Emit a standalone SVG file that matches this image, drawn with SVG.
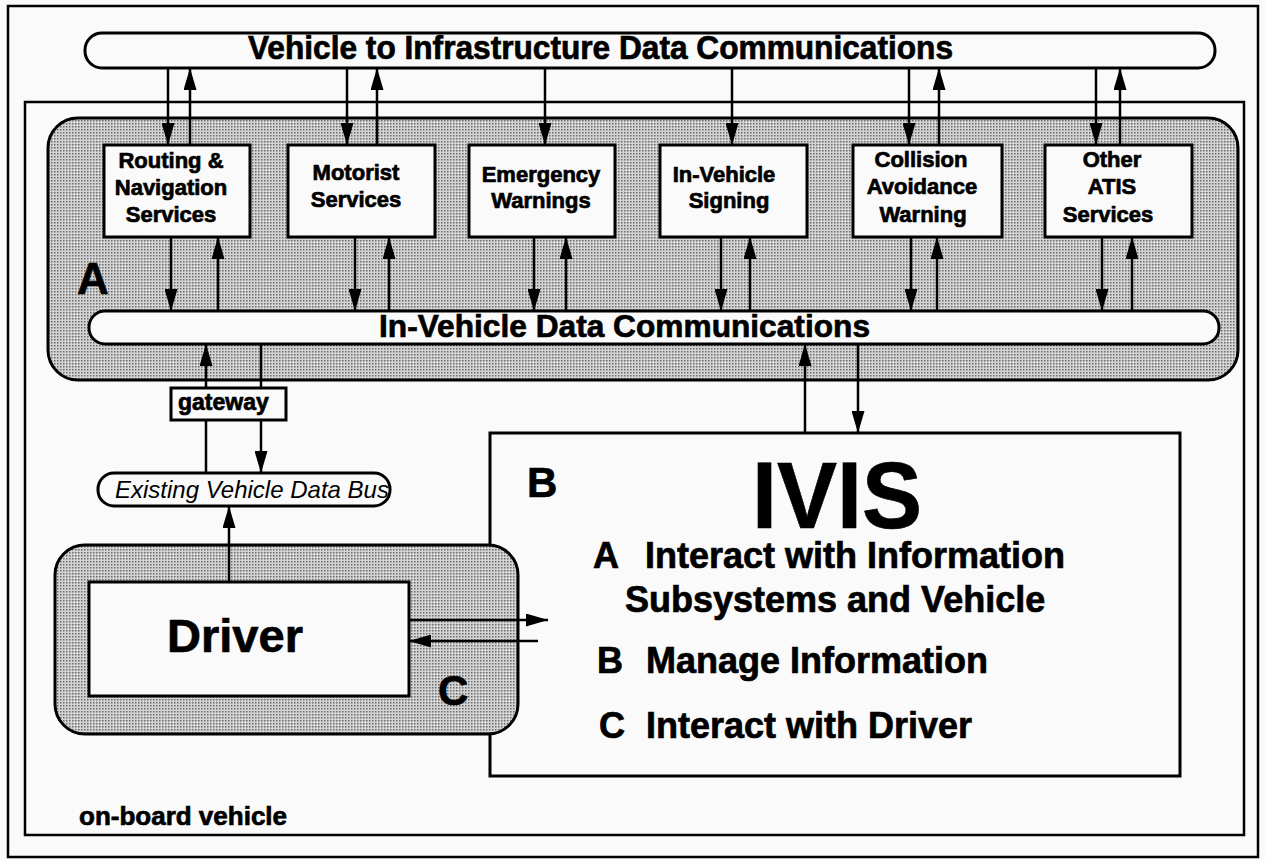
<svg xmlns="http://www.w3.org/2000/svg" width="1265" height="860" viewBox="0 0 1265 860">
<defs>
<marker id="ah" markerWidth="22" markerHeight="13" refX="22" refY="6.5" orient="auto" markerUnits="userSpaceOnUse"><path d="M0,0 L22,6.5 L0,13 z" fill="#000"/></marker>
<pattern id="dots" width="3" height="3" patternUnits="userSpaceOnUse"><rect width="3" height="3" fill="#d4d4d4"/><rect width="1.5" height="1.5" fill="#6a6a6a"/></pattern>
</defs>
<style>
text{font-family:"Liberation Sans",Arial,sans-serif;font-weight:bold;fill:#000;stroke:#000;stroke-width:0.7}
text.it{font-weight:normal;font-style:italic;stroke:none}
.frame{fill:none;stroke:#000;stroke-width:2.5}
.pill{fill:#fafafa;stroke:#000;stroke-width:3}
.box{fill:#fafafa;stroke:#000;stroke-width:3}
.gray{fill:url(#dots);stroke:#000;stroke-width:3}
.svc{font-size:22px;text-anchor:middle}
.ln{stroke:#000;stroke-width:2.5;fill:none}
.arr{stroke:#000;stroke-width:2.5;fill:none;marker-end:url(#ah)}
.big{font-size:36px}
</style>
<rect x="0" y="0" width="1265" height="860" fill="#fafafa"/>
<g id="outer-frame"><rect class="frame" x="8" y="6" width="1250" height="851" stroke-width="3"/></g>
<g id="on-board-vehicle">
<rect class="frame" x="25" y="102" width="1219" height="733"/>
<text x="79" y="825" font-size="26">on-board vehicle</text>
</g>
<g id="v2i-bus">
<rect class="pill" x="85" y="33" width="1130" height="35" rx="17"/>
<text x="248" y="59" font-size="33" textLength="705" lengthAdjust="spacingAndGlyphs">Vehicle to Infrastructure Data Communications</text>
</g>
<g id="region-A">
<rect class="gray" x="48" y="118" width="1190" height="262" rx="30"/>
<text x="77" y="294" font-size="44">A</text>
</g>
<g id="in-vehicle-bus">
<rect class="pill" x="89" y="311" width="1130" height="33" rx="16"/>
<text x="379" y="337" font-size="32" textLength="491" lengthAdjust="spacingAndGlyphs">In-Vehicle Data Communications</text>
</g>
<g id="routing">
<rect class="box" x="104" y="145" width="146" height="92"/>
<text class="svc" x="171" y="168">Routing &amp;</text>
<text class="svc" x="171" y="195">Navigation</text>
<text class="svc" x="171" y="222">Services</text>
</g>
<g id="motorist">
<rect class="box" x="288" y="145" width="147" height="92"/>
<text class="svc" x="356" y="180">Motorist</text>
<text class="svc" x="356" y="207">Services</text>
</g>
<g id="emergency">
<rect class="box" x="469" y="145" width="146" height="92"/>
<text class="svc" x="541" y="182">Emergency</text>
<text class="svc" x="541" y="208">Warnings</text>
</g>
<g id="signing">
<rect class="box" x="660" y="145" width="147" height="92"/>
<text class="svc" x="724" y="182">In-Vehicle</text>
<text class="svc" x="729" y="208">Signing</text>
</g>
<g id="collision">
<rect class="box" x="853" y="145" width="149" height="92"/>
<text class="svc" x="921" y="167">Collision</text>
<text class="svc" x="922" y="194">Avoidance</text>
<text class="svc" x="923" y="222">Warning</text>
</g>
<g id="other-atis">
<rect class="box" x="1045" y="145" width="147" height="92"/>
<text class="svc" x="1112" y="167">Other</text>
<text class="svc" x="1112" y="194">ATIS</text>
<text class="svc" x="1108" y="222">Services</text>
</g>
<g id="gateway">
<rect class="box" x="171" y="388" width="115" height="32"/>
<text x="178" y="410" font-size="23">gateway</text>
</g>
<g id="existing-bus">
<rect class="pill" x="98" y="473" width="292" height="33" rx="16"/>
<text class="it" x="115" y="498" font-size="24">Existing Vehicle Data Bus</text>
</g>
<g id="ivis">
<rect class="box" x="490" y="433" width="690" height="343"/>
<text x="527" y="497" font-size="42">B</text>
<text x="752" y="528" font-size="95" textLength="170" lengthAdjust="spacingAndGlyphs">IVIS</text>
<text class="big" x="593" y="568">A</text>
<text class="big" x="645" y="568">Interact with Information</text>
<text class="big" x="625" y="612">Subsystems and Vehicle</text>
<text class="big" x="597" y="673">B</text>
<text class="big" x="646" y="673">Manage Information</text>
<text class="big" x="599" y="738">C</text>
<text class="big" x="646" y="738">Interact with Driver</text>
</g>
<g id="driver">
<rect class="gray" x="55" y="545" width="463" height="189" rx="30"/>
<rect class="box" x="89" y="582" width="320" height="114"/>
<text x="235" y="652" font-size="47" text-anchor="middle">Driver</text>
<text x="438" y="705" font-size="42">C</text>
</g>
<g id="connectors">
<line class="arr" x1="168" y1="68" x2="168" y2="145"/>
<line class="arr" x1="190" y1="145" x2="190" y2="68"/>
<line class="arr" x1="347" y1="68" x2="347" y2="145"/>
<line class="arr" x1="377" y1="145" x2="377" y2="68"/>
<line class="arr" x1="545" y1="68" x2="545" y2="145"/>
<line class="arr" x1="732" y1="68" x2="732" y2="145"/>
<line class="arr" x1="909" y1="68" x2="909" y2="145"/>
<line class="arr" x1="939" y1="145" x2="939" y2="68"/>
<line class="arr" x1="1096" y1="68" x2="1096" y2="145"/>
<line class="arr" x1="1120" y1="145" x2="1120" y2="68"/>
<line class="arr" x1="171" y1="237" x2="171" y2="311"/>
<line class="arr" x1="218" y1="311" x2="218" y2="237"/>
<line class="arr" x1="355" y1="237" x2="355" y2="311"/>
<line class="arr" x1="389" y1="311" x2="389" y2="237"/>
<line class="arr" x1="534" y1="237" x2="534" y2="311"/>
<line class="arr" x1="566" y1="311" x2="566" y2="237"/>
<line class="arr" x1="721" y1="237" x2="721" y2="311"/>
<line class="arr" x1="750" y1="311" x2="750" y2="237"/>
<line class="arr" x1="911" y1="237" x2="911" y2="311"/>
<line class="arr" x1="937" y1="311" x2="937" y2="237"/>
<line class="arr" x1="1102" y1="237" x2="1102" y2="311"/>
<line class="arr" x1="1132" y1="311" x2="1132" y2="237"/>
<line class="arr" x1="206" y1="388" x2="206" y2="344"/>
<line class="ln" x1="261" y1="344" x2="261" y2="388"/>
<line class="ln" x1="206" y1="420" x2="206" y2="473"/>
<line class="arr" x1="261" y1="420" x2="261" y2="473"/>
<line class="arr" x1="229" y1="582" x2="229" y2="506"/>
<line class="arr" x1="805" y1="433" x2="805" y2="344"/>
<line class="arr" x1="858" y1="344" x2="858" y2="433"/>
<line class="arr" x1="409" y1="620" x2="548" y2="620"/>
<line class="arr" x1="538" y1="641" x2="409" y2="641"/>
</g>
</svg>
